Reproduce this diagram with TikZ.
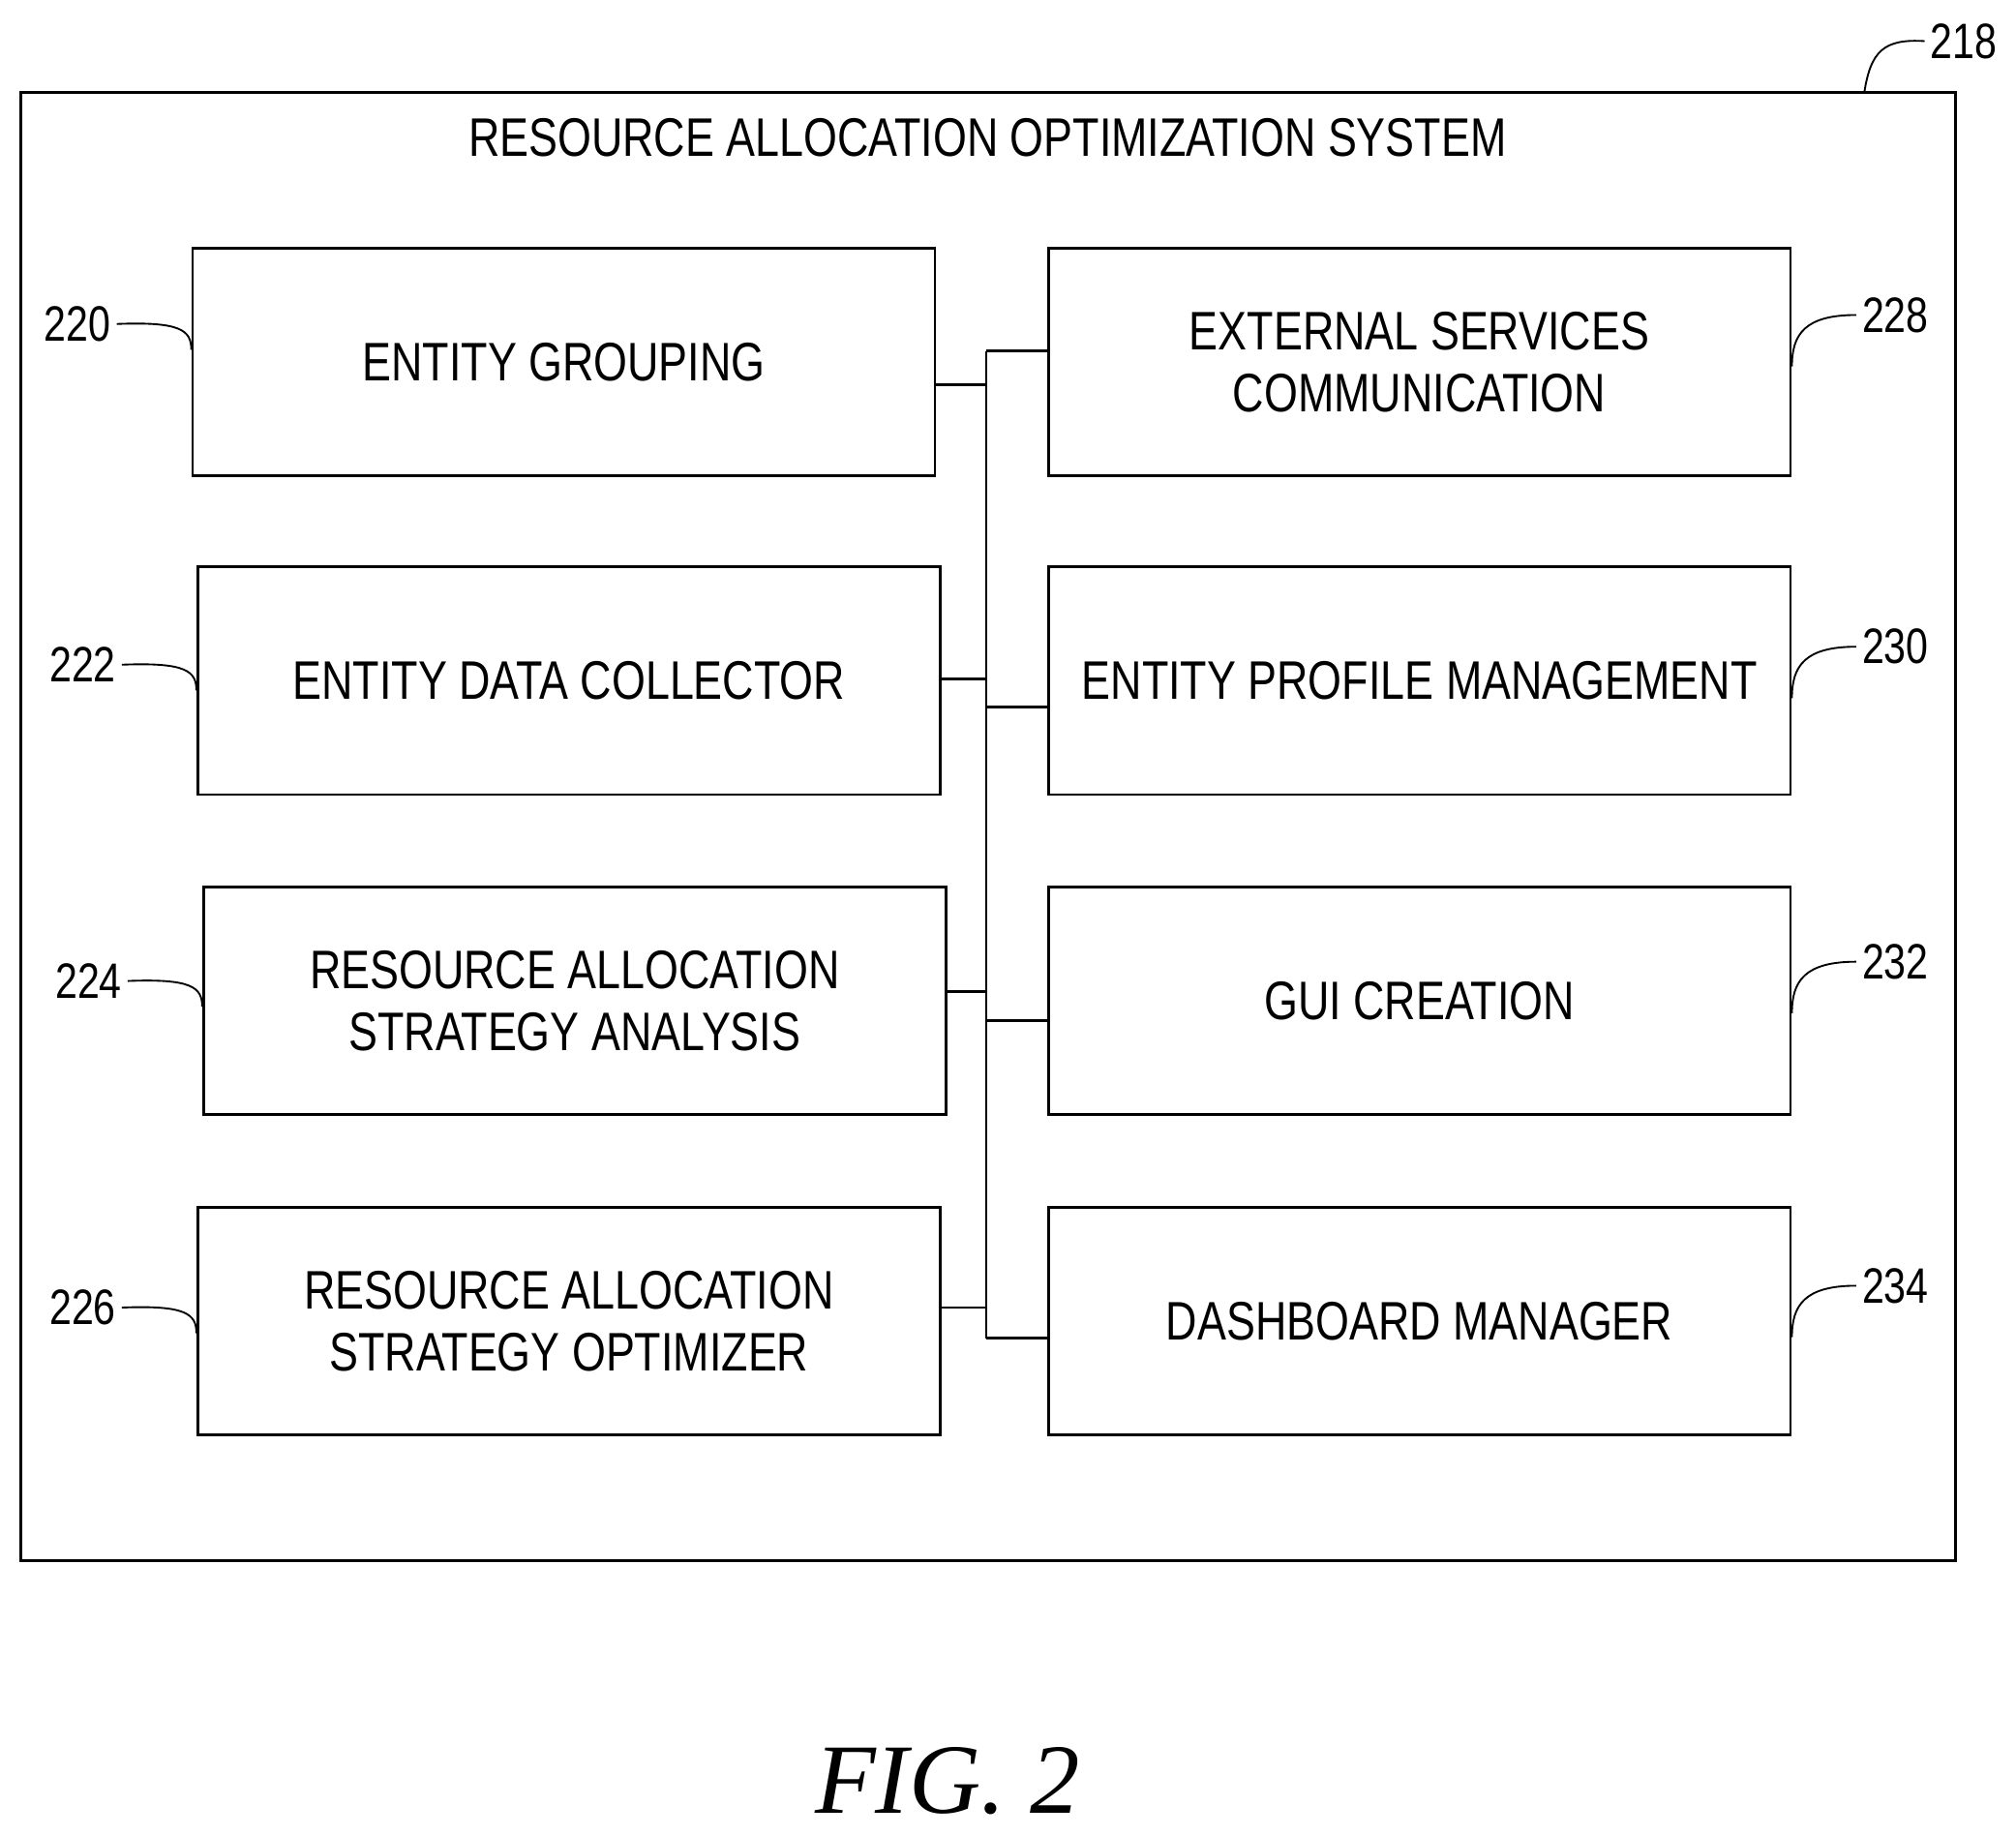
\documentclass[tikz,border=0pt]{standalone}
\usepackage{fontspec}
\setmainfont[FakeStretch=0.8]{Liberation Sans}
\newfontfamily\figfont{Liberation Serif}
\usetikzlibrary{positioning}
\begin{document}
\begin{tikzpicture}[x=0.01cm,y=-0.01cm,semithick,
  block/.style={draw,rectangle,minimum width=5.77cm,minimum height=1.77cm,align=center,
    font=\fontsize{12}{13.7}\selectfont,inner sep=0pt},
  refnum/.style={font=\fontsize{11}{12}\selectfont,inner sep=1pt},
  lead/.style={thin}]
  \useasboundingbox (0,0) rectangle (1568,1428);
  % outer system
  \draw (16,72) rectangle (1521,1214);
  \node[font=\fontsize{12}{14}\selectfont] (title) at (768,107) {RESOURCE ALLOCATION OPTIMIZATION SYSTEM};
  \node[refnum,anchor=west] (n218) at (1497,32) {218};
  \draw[lead] (n218.west) .. controls (1465,30) and (1455,40) .. (1450,72);

  % left column
  \node[block] (grp) at (438.5,281.5) {ENTITY GROUPING};
  \node[block] (col) at (442.5,529.5) {ENTITY DATA COLLECTOR};
  \node[block] (ana) at (447,778.5) {RESOURCE ALLOCATION\\STRATEGY ANALYSIS};
  \node[block] (opt) at (442.5,1027.5) {RESOURCE ALLOCATION\\STRATEGY OPTIMIZER};
  % right column
  \node[block] (ext) at (1104,281.5) {EXTERNAL SERVICES\\COMMUNICATION};
  \node[block] (prf) at (1104,529.5) {ENTITY PROFILE MANAGEMENT};
  \node[block] (gui) at (1104,778.5) {GUI CREATION};
  \node[block] (dsh) at (1104,1027.5) {DASHBOARD MANAGER};

  % bus
  \coordinate (bt) at (767,273);
  \coordinate (bb) at (767,1041);
  \draw (bt) -- (bb);
  \draw (grp.east |- 0,299) -- (767,299);
  \draw (col.east |- 0,528) -- (767,528);
  \draw (ana.east |- 0,771) -- (767,771);
  \draw (opt.east |- 0,1017) -- (767,1017);
  \draw (bt) -- (ext.west |- bt);
  \draw (767,550) -- (prf.west |- 0,550);
  \draw (767,794) -- (gui.west |- 0,794);
  \draw (bb) -- (dsh.west |- bb);

  % reference numerals, left
  \foreach \b/\n/\y in {grp/220/252,col/222/517,ana/224/763,opt/226/1017}{
    \node[refnum,anchor=east] (n\n) at ([xshift=-5.8mm]\b.west |- 0,\y) {\n};
    \draw[lead] (n\n.east) .. controls +(50,-2) and +(0,-15) .. (\b.west |- 0,\y+20);
  }
  % reference numerals, right
  \foreach \b/\n/\y in {ext/228/245,prf/230/503,gui/232/748,dsh/234/1000}{
    \node[refnum,anchor=west] (n\n) at ([xshift=5mm]\b.east |- 0,\y) {\n};
    \draw[lead] (n\n.west) .. controls +(-40,0) and +(0,-25) .. (\b.east |- 0,\y+40);
  }

  \node[font=\figfont\itshape\fontsize{22}{24}\selectfont] (fig) at (737,1385) {FIG. 2};
\end{tikzpicture}
\end{document}
